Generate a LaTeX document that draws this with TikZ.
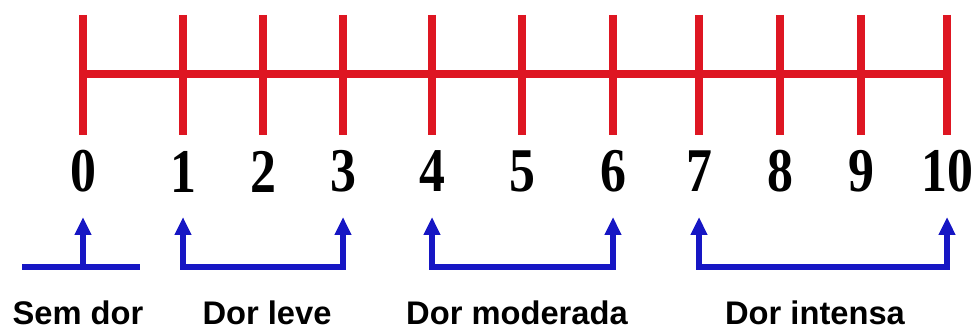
\documentclass[tikz,border=0pt]{standalone}
\usepackage{fontspec}
\setmainfont{Liberation Serif}
\setsansfont{Liberation Sans}
\usetikzlibrary{arrows.meta}
\definecolor{scalered}{RGB}{222,22,34}
\definecolor{scaleblue}{RGB}{22,22,196}
\begin{document}
\begin{tikzpicture}[x=0.02cm,y=-0.02cm,line cap=butt,line join=miter,>={Triangle[width=0.32cm,length=0.36cm]},
	tick/.style={scalered,line width=0.16cm},
	brk/.style={scaleblue,line width=0.12cm},
	num/.style={inner sep=0pt,font=\fontsize{29.5}{30}\selectfont\bfseries},
	lab/.style={inner sep=0pt,font=\sffamily\bfseries\fontsize{18.6}{20}\selectfont}]
	\useasboundingbox (0,0) rectangle (974,334);
	%% Régua
	\draw[tick] (83,74) -- (947,74);
	\foreach \x/\n in {83/0,183/1,263/2,343/3,432/4,522/5,613/6,699/7,780/8,861/9,947/10}{
		\draw[tick] (\x,15) -- (\x,135);
		\node[num] (n\n) at (\x,171.5) {\scalebox{1}[1.2]{\n}};
		\coordinate (a\n) at (\x,217);
		\coordinate (b\n) at (\x,267);
	}
	%% Sem dor
	\coordinate (s0l) at (22,267);
	\coordinate (s0r) at (140,267);
	\draw[brk] (s0l) -- (s0r);
	\draw[brk,->] (b0) -- (a0);
	%% Chaves
	\draw[brk,<->] (a1) -- (b1) -- (b3) -- (a3);
	\draw[brk,<->] (a4) -- (b4) -- (b6) -- (a6);
	\draw[brk,<->] (a7) -- (b7) -- (b10) -- (a10);
	%% Rótulos
	\node[lab] (semdor) at (78,313) {Sem dor};
	\node[lab] (leve) at (267,313) {Dor leve};
	\node[lab] (moderada) at (517,313) {Dor moderada};
	\node[lab] (intensa) at (815,313) {Dor intensa};
\end{tikzpicture}
\end{document}
